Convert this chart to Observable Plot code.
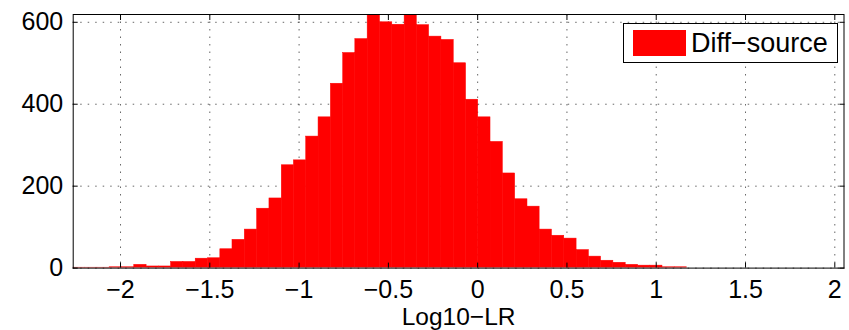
<!DOCTYPE html>
<html>
<head>
<meta charset="utf-8">
<script src="https://cdn.jsdelivr.net/npm/d3@7"></script>
<script src="https://cdn.jsdelivr.net/npm/@observablehq/plot@0.6"></script>
<style>
  html, body { margin: 0; padding: 0; background: #fff; }
  #wrap { position: relative; width: 849px; height: 330px; overflow: hidden;
          font-family: "Liberation Sans", Arial, Helvetica, sans-serif; }
  #legend { position: absolute; left: 623px; top: 23px; width: 215px; height: 40px;
            box-sizing: border-box; border: 1.4px solid #000; background: #fff; }
  #legend .sw { position: absolute; left: 9px; top: 6px; width: 53px; height: 26px; background: #ff0000; }
  #legend .lb { position: absolute; left: 67px; top: 3px; font-size: 27px; line-height: 32px; color: #000; white-space: nowrap; }
</style>
</head>
<body>
<div id="wrap"></div>
<script>
// Histogram bins (edges in Log10-LR units) and counts per bin
const binEdges = [
  -2.267, -2.198, -2.129, -2.061, -1.992, -1.923, -1.854, -1.785, -1.717, -1.648,
  -1.579, -1.510, -1.441, -1.373, -1.304, -1.235, -1.166, -1.097, -1.029, -0.960,
  -0.891, -0.822, -0.753, -0.685, -0.616, -0.547, -0.478, -0.409, -0.341, -0.272,
  -0.203, -0.134, -0.065, 0.003, 0.072, 0.141, 0.210, 0.279, 0.347, 0.416,
  0.485, 0.554, 0.623, 0.691, 0.760, 0.829, 0.898, 0.967, 1.035, 1.104, 1.173
];
const counts = [
  1, 1, 1, 2, 2, 8, 4, 4, 15, 15,
  23, 24, 46, 69, 94, 145, 170, 251, 263, 321,
  368, 450, 525, 559, 640, 600, 594, 635, 593, 565,
  557, 500, 411, 368, 308, 231, 168, 150, 94, 79,
  72, 44, 28, 18, 13, 8, 6, 6, 2, 2
];
const seriesName = "Diff\u2212source";
const xLabel = "Log10\u2212LR";
const xTicks = [-2, -1.5, -1, -0.5, 0, 0.5, 1, 1.5, 2];
const xTickLabels = ["\u22122", "\u22121.5", "\u22121", "\u22120.5", "0", "0.5", "1", "1.5", "2"];
const yTicks = [0, 200, 400, 600];
const yTickLabels = ["0", "200", "400", "600"];
const xDomain = [-2.265, 2.0515];
const yDomain = [0, 619];

const rows = counts.map((c, i) => ({x1: binEdges[i], x2: binEdges[i + 1], y: c}));

const grid = {stroke: "#000", strokeOpacity: 0.6, strokeWidth: 1, strokeDasharray: "1.5,6"};

const chart = Plot.plot({
  width: 849,
  height: 330,
  marginLeft: 72.7,
  marginRight: 5.5,
  marginTop: 14,
  marginBottom: 62.4,
  x: {domain: xDomain},
  y: {domain: yDomain},
  style: {fontFamily: '"Liberation Sans", Arial, Helvetica, sans-serif', fontSize: "25px", color: "#000", background: "#fff"},
  marks: [
    Plot.gridX(xTicks, grid),
    Plot.gridY(yTicks, grid),
    Plot.rectY(rows, {x1: "x1", x2: "x2", y1: 0, y2: "y", fill: "#ff0000", stroke: "#ff0000", strokeWidth: 0.5, inset: 0, clip: true}),
    Plot.frame({stroke: "#000", strokeWidth: 1}),
    Plot.axisX(xTicks, {anchor: "bottom", tickSize: -5, tickPadding: 17, fontSize: 25, label: null,
      tickFormat: d => xTickLabels[xTicks.indexOf(d)]}),
    Plot.axisX(xTicks, {anchor: "top", tickSize: -5, label: null, tickFormat: () => ""}),
    Plot.axisY(yTicks, {anchor: "left", tickSize: -5, tickPadding: 15, fontSize: 25, label: null,
      tickFormat: d => yTickLabels[yTicks.indexOf(d)]}),
    Plot.axisY(yTicks, {anchor: "right", tickSize: -5, label: null, tickFormat: () => ""}),
    Plot.text([xLabel], {frameAnchor: "bottom", dy: 57, fontSize: 24.5, lineAnchor: "bottom", fill: "#000"})
  ]
});

const wrap = document.getElementById("wrap");
wrap.appendChild(chart);
const legend = document.createElement("div");
legend.id = "legend";
legend.innerHTML = '<div class="sw"></div><div class="lb"></div>';
legend.querySelector(".lb").textContent = seriesName;
wrap.appendChild(legend);
</script>
</body>
</html>
